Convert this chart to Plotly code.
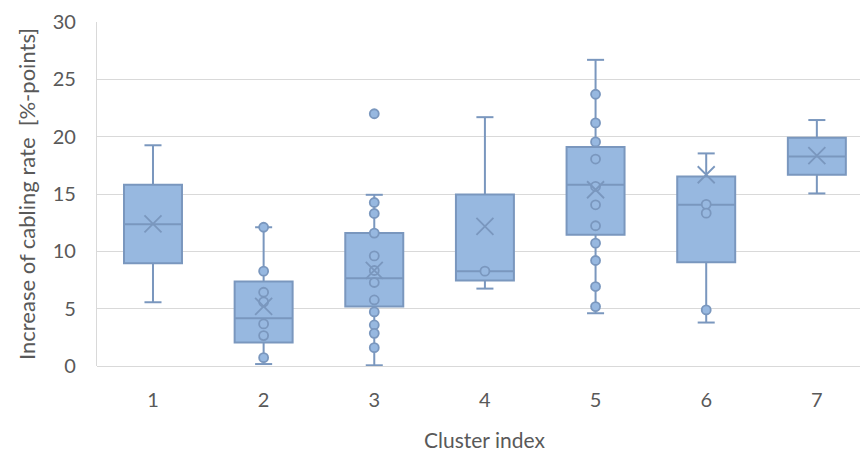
import plotly.graph_objects as go

clusters = [1, 2, 3, 4, 5, 6, 7]
q1 = [8.97, 2.04, 5.18, 7.45, 11.44, 9.05, 16.68]
median = [12.37, 4.17, 7.66, 8.27, 15.81, 14.06, 18.28]
q3 = [15.8, 7.37, 11.6, 14.96, 19.1, 16.53, 19.9]
lower_whisker = [5.56, 0.17, 0.06, 6.75, 4.6, 3.79, 15.05]
upper_whisker = [19.25, 12.1, 14.93, 21.7, 26.7, 18.54, 21.45]
mean = [12.4, 5.2, 8.33, 12.17, 15.37, 16.68, 18.34]

points_c2 = [12.1, 8.27, 6.43, 5.59, 3.67, 2.65, 0.73]
points_c3 = [22.0, 14.26, 13.3, 11.59, 9.6, 8.33, 7.28, 5.76, 4.72, 3.58, 2.85, 1.6]
points_c4 = [8.27]
points_c5 = [23.7, 21.2, 19.54, 18.05, 15.66, 14.06, 12.23, 10.71, 9.2, 6.93, 5.18]
points_c6 = [14.1, 13.33, 4.89]

point_sets = {2: points_c2, 3: points_c3, 4: points_c4, 5: points_c5, 6: points_c6}
point_cluster, point_value = [], []
for c, vals in point_sets.items():
    point_cluster += [c] * len(vals)
    point_value += vals

FILL = "#97B8E0"
EDGE = "#7A97BE"
FONT = "Lato, Open Sans, sans-serif"
TXT = "#595959"

fig = go.Figure()
fig.add_trace(go.Box(
    x=clusters, q1=q1, median=median, q3=q3,
    lowerfence=lower_whisker, upperfence=upper_whisker,
    fillcolor=FILL, line=dict(color=EDGE, width=2),
    width=0.524, whiskerwidth=0, boxpoints=False, showlegend=False,
    hoverinfo="skip",
))

# whisker caps
cap_half = 0.077
cx, cy = [], []
for c, lo, hi in zip(clusters, lower_whisker, upper_whisker):
    cx += [c - cap_half, c + cap_half, None, c - cap_half, c + cap_half, None]
    cy += [lo, lo, None, hi, hi, None]
fig.add_trace(go.Scatter(x=cx, y=cy, mode="lines", line=dict(color=EDGE, width=2),
                         showlegend=False, hoverinfo="skip"))

# data points
fig.add_trace(go.Scatter(x=point_cluster, y=point_value, mode="markers",
                         marker=dict(symbol="circle", size=9, color=FILL,
                                     line=dict(color=EDGE, width=1.8)),
                         showlegend=False))

# mean markers
fig.add_trace(go.Scatter(x=clusters, y=mean, mode="markers",
                         marker=dict(symbol="x-thin", size=17,
                                     line=dict(color=EDGE, width=1.8)),
                         showlegend=False))

fig.add_annotation(text="Cluster index", x=4, xref="x", y=-0.215, yref="paper",
                   showarrow=False, yanchor="middle",
                   font=dict(family=FONT, size=21, color=TXT))

fig.update_layout(
    width=860, height=455,
    margin=dict(l=97, r=0, t=22, b=89),
    paper_bgcolor="white", plot_bgcolor="white",
    font=dict(family=FONT, size=20, color=TXT),
    xaxis=dict(range=[0.494, 7.39], tickmode="array", tickvals=clusters,
               ticktext=[str(c) for c in clusters], showgrid=False,
               zeroline=False, showline=False, ticks="", ticklabelstandoff=20,
               tickfont=dict(family=FONT, size=20, color=TXT)),
    yaxis=dict(range=[0, 30], dtick=5, showgrid=True, gridcolor="#D9D9D9",
               gridwidth=1.3, zeroline=True, zerolinecolor="#D9D9D9",
               zerolinewidth=1.3, showline=True, linecolor="#D9D9D9", linewidth=1.3,
               ticks="", ticklabelstandoff=16,
               title=dict(text="Increase of cabling rate  [%-points]",
                          font=dict(family=FONT, size=22, color=TXT), standoff=10),
               tickfont=dict(family=FONT, size=20, color=TXT)),
)

fig.write_html("out.html", config={"displayModeBar": False},
               post_script="document.body.style.margin='0';document.body.style.overflow='hidden';")
